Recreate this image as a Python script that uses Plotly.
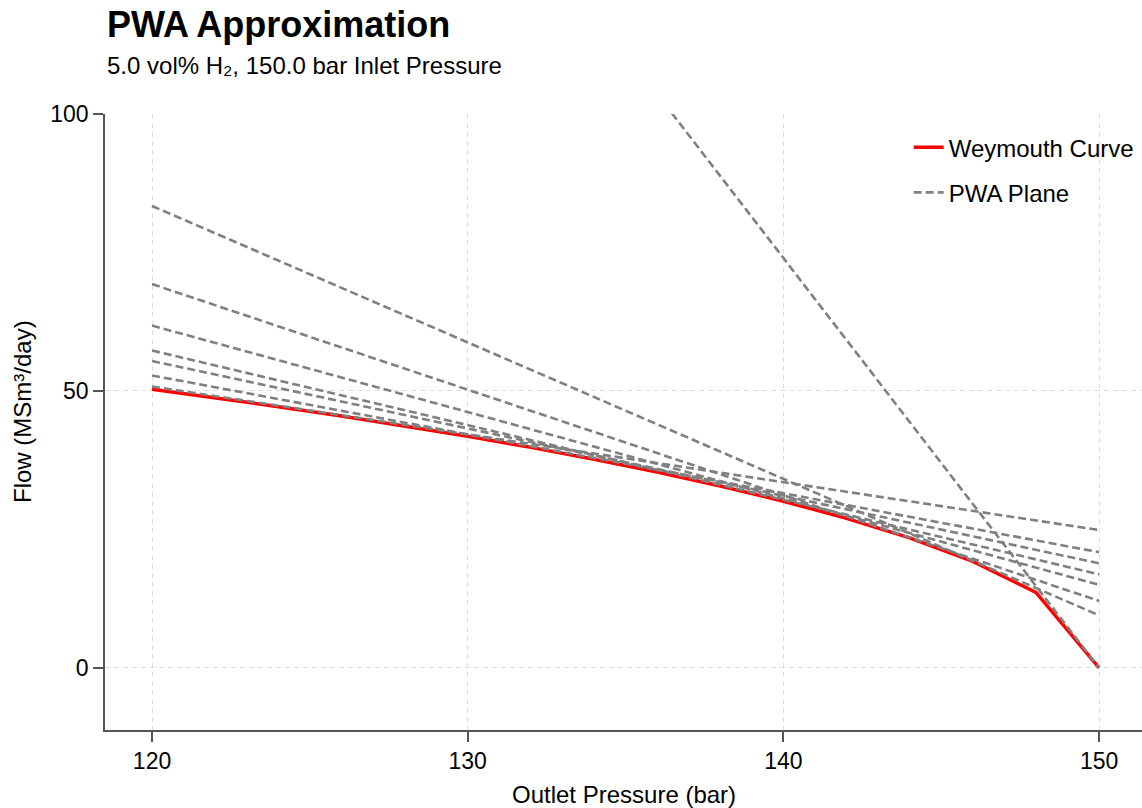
import plotly.graph_objects as go

# Weymouth curve samples (outlet pressure in bar, flow in MSm3/day)
outlet_pressure = [120, 122, 124, 126, 128, 130, 132, 134, 136, 138, 140, 142, 144, 146, 148, 150]
weymouth_flow = [50.30, 48.78, 47.17, 45.49, 43.71, 41.82, 39.82, 37.68, 35.37, 32.86,
                 30.10, 27.01, 23.47, 19.23, 13.64, 0.0]

# PWA planes sliced at 150 bar inlet: flow at 120 bar and at 150 bar outlet
plane_x = [120, 150]
plane_start = [50.8, 52.8, 55.4, 57.3, 61.8, 69.3, 83.4, 222.0]
plane_end = [24.9, 20.9, 18.9, 16.9, 15.0, 12.1, 9.5, 0.0]

x_ticks = [120, 130, 140, 150]
y_ticks = [0, 50, 100]

FONT = "Liberation Sans, Arial, Helvetica, sans-serif"
W, H = 1142, 808
L, R, T, B = 105, 0, 114, 78

fig = go.Figure()
fig.add_trace(go.Scatter(
    x=outlet_pressure, y=weymouth_flow, mode="lines",
    line=dict(color="#ff0000", width=3.5),
    name="Weymouth Curve", legendgroup="w", showlegend=True,
))
for i, (a, b) in enumerate(zip(plane_start, plane_end)):
    fig.add_trace(go.Scatter(
        x=plane_x, y=[a, b], mode="lines",
        line=dict(color="#808080", width=2.6, dash="8px,4px"),
        name="PWA Plane", legendgroup="p", showlegend=(i == 0),
    ))

axis_common = dict(
    showline=True, linecolor="#555555", linewidth=1.5,
    ticks="outside", ticklen=10, tickwidth=1.5, tickcolor="#555555",
    showgrid=True, gridcolor="#dedede", gridwidth=1.2, griddash="5px,4px",
    zeroline=False, tickfont=dict(family=FONT, size=23, color="#000000"),
    mirror=False,
)

fig.update_layout(
    width=W, height=H,
    margin=dict(l=L, r=R, t=T, b=B, pad=0),
    paper_bgcolor="white", plot_bgcolor="white",
    font=dict(family=FONT, color="#000000"),
    xaxis=dict(range=[118.51, 151.36], tickvals=x_ticks, **axis_common),
    yaxis=dict(range=[-11.2, 100], tickvals=y_ticks, **axis_common),
    showlegend=True,
    legend=dict(
        x=0.775, y=0.982, xanchor="left", yanchor="top",
        bgcolor="rgba(0,0,0,0)", borderwidth=0,
        font=dict(family=FONT, size=24, color="#000000"),
        traceorder="grouped", tracegroupgap=11,
    ),
    annotations=[
        dict(text="<b>PWA Approximation</b>", xref="paper", yref="paper",
             x=0, y=1.146, xanchor="left", yanchor="middle", showarrow=False,
             font=dict(family=FONT, size=36, color="#000000")),
        dict(text="5.0 vol% H₂, 150.0 bar Inlet Pressure", xref="paper", yref="paper",
             x=0, y=1.0787, xanchor="left", yanchor="middle", showarrow=False,
             font=dict(family=FONT, size=24, color="#000000")),
        dict(text="Outlet Pressure (bar)", xref="paper", yref="paper",
             x=0.5, y=-(794 - 730) / (H - T - B), xanchor="center", yanchor="middle",
             showarrow=False, font=dict(family=FONT, size=24, color="#000000")),
        dict(text="Flow (MSm³/day)", xref="paper", yref="paper",
             x=-(105 - 22) / (W - L - R), y=(730 - 412) / (H - T - B), xanchor="center",
             yanchor="middle", textangle=-90, showarrow=False,
             font=dict(family=FONT, size=24, color="#000000")),
    ],
)

fig.write_html("out.html")
